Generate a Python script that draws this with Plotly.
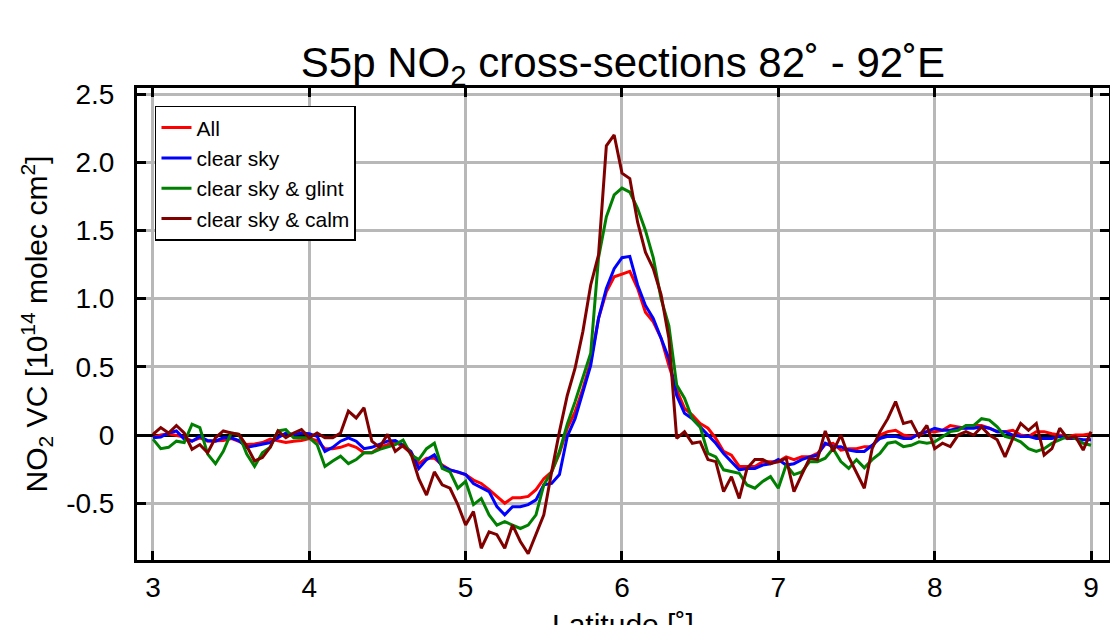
import plotly.graph_objects as go

latitude = [3.00, 3.05, 3.10, 3.15, 3.20, 3.25, 3.30, 3.35, 3.40, 3.45, 3.50, 3.55, 3.60, 3.65, 3.70, 3.75,
            3.80, 3.85, 3.90, 3.95, 4.00, 4.05, 4.10, 4.15, 4.20, 4.25, 4.30, 4.35, 4.40, 4.45, 4.50, 4.55,
            4.60, 4.65, 4.70, 4.75, 4.80, 4.85, 4.90, 4.95, 5.00, 5.05, 5.10, 5.15, 5.20, 5.25, 5.30, 5.35,
            5.40, 5.45, 5.50, 5.55, 5.60, 5.65, 5.70, 5.75, 5.80, 5.85, 5.90, 5.95, 6.00, 6.05, 6.10, 6.15,
            6.20, 6.25, 6.30, 6.35, 6.40, 6.45, 6.50, 6.55, 6.60, 6.65, 6.70, 6.75, 6.80, 6.85, 6.90, 6.95,
            7.00, 7.05, 7.10, 7.15, 7.20, 7.25, 7.30, 7.35, 7.40, 7.45, 7.50, 7.55, 7.60, 7.65, 7.70, 7.75,
            7.80, 7.85, 7.90, 7.95, 8.00, 8.05, 8.10, 8.15, 8.20, 8.25, 8.30, 8.35, 8.40, 8.45, 8.50, 8.55,
            8.60, 8.65, 8.70, 8.75, 8.80, 8.85, 8.90, 8.95, 9.00]

vc_all = [-0.02, 0.0, 0.01, 0.0, -0.015, -0.045, -0.02, -0.045, -0.045, -0.04, -0.025, -0.045, -0.07, -0.065, -0.055, -0.03,
          -0.04, -0.055, -0.045, -0.04, -0.025, -0.04, -0.1, -0.1, -0.09, -0.07, -0.09, -0.13, -0.13, -0.09, -0.07, -0.05,
          -0.085, -0.13, -0.21, -0.17, -0.17, -0.22, -0.255, -0.27, -0.29, -0.33, -0.355, -0.4, -0.45, -0.5, -0.46, -0.46,
          -0.45, -0.4, -0.32, -0.27, -0.135, 0.05, 0.17, 0.34, 0.54, 0.855, 1.05, 1.16, 1.18, 1.2, 1.075, 0.9,
          0.83, 0.71, 0.51, 0.33, 0.195, 0.147, 0.085, 0.05, -0.025, -0.12, -0.147, -0.23, -0.23, -0.23, -0.195, -0.195,
          -0.195, -0.16, -0.18, -0.16, -0.16, -0.135, -0.07, -0.06, -0.11, -0.1, -0.1, -0.085, -0.085, 0.0, 0.025, 0.035,
          0.0, -0.01, 0.0, 0.025, 0.025, 0.035, 0.07, 0.06, 0.05, 0.07, 0.07, 0.05, 0.025, 0.025, 0.035, 0.0,
          -0.01, 0.025, 0.025, 0.01, 0.0, -0.01, 0.0, 0.0, 0.01]

vc_clear = [-0.02, -0.015, 0.015, 0.03, -0.03, -0.045, -0.01, -0.04, -0.045, -0.02, -0.02, -0.04, -0.09, -0.08, -0.07, -0.055,
            -0.02, 0.015, 0.005, 0.015, 0.01, -0.01, -0.12, -0.09, -0.045, -0.02, -0.045, -0.1, -0.09, -0.07, -0.045, -0.04,
            -0.075, -0.12, -0.245, -0.18, -0.145, -0.23, -0.255, -0.27, -0.29, -0.355, -0.385, -0.415, -0.525, -0.585, -0.525, -0.525,
            -0.51, -0.475, -0.365, -0.355, -0.29, -0.01, 0.12, 0.317, 0.51, 0.855, 1.075, 1.22, 1.3, 1.31, 1.1, 0.95,
            0.855, 0.71, 0.56, 0.29, 0.16, 0.12, 0.06, 0.0, -0.06, -0.135, -0.195, -0.255, -0.245, -0.245, -0.22, -0.21,
            -0.18, -0.22, -0.21, -0.18, -0.16, -0.147, -0.06, -0.085, -0.085, -0.11, -0.12, -0.12, -0.075, -0.025, -0.01, -0.01,
            -0.025, -0.025, 0.01, 0.025, 0.05, 0.035, 0.035, 0.05, 0.05, 0.05, 0.06, 0.05, 0.025, 0.025, 0.0, -0.01,
            -0.01, -0.025, -0.025, -0.025, -0.01, -0.025, -0.025, -0.035, -0.035]

vc_glint = [-0.03, -0.1, -0.09, -0.045, -0.055, 0.08, 0.055, -0.14, -0.21, -0.12, 0.015, 0.005, -0.14, -0.23, -0.13, -0.09,
            0.03, 0.04, -0.02, -0.02, -0.02, -0.07, -0.23, -0.19, -0.155, -0.21, -0.18, -0.13, -0.13, -0.105, -0.09, -0.07,
            -0.037, -0.145, -0.18, -0.1, -0.06, -0.245, -0.27, -0.39, -0.34, -0.51, -0.465, -0.585, -0.66, -0.635, -0.66, -0.685,
            -0.66, -0.585, -0.365, -0.27, -0.12, 0.08, 0.245, 0.415, 0.6, 1.3, 1.6, 1.76, 1.81, 1.78, 1.66, 1.5,
            1.3, 1.0, 0.8, 0.366, 0.27, 0.12, 0.06, -0.135, -0.16, -0.255, -0.27, -0.28, -0.366, -0.39, -0.34, -0.305,
            -0.39, -0.22, -0.29, -0.27, -0.195, -0.195, -0.17, -0.1, -0.195, -0.245, -0.18, -0.24, -0.18, -0.135, -0.06, -0.05,
            -0.085, -0.075, -0.05, -0.06, -0.05, -0.01, 0.025, 0.035, 0.07, 0.07, 0.12, 0.11, 0.06, -0.01, -0.025, -0.05,
            -0.1, -0.12, -0.1, -0.06, -0.035, -0.01, -0.025, -0.06, -0.075]

vc_calm = [0.005, 0.055, 0.015, 0.07, 0.015, -0.105, -0.07, -0.13, -0.02, 0.03, 0.015, 0.005, -0.08, -0.19, -0.165, -0.09,
           0.03, -0.02, 0.015, 0.04, -0.02, 0.015, -0.02, -0.02, 0.015, 0.175, 0.125, 0.2, -0.045, -0.09, 0.005, -0.12,
           -0.075, -0.135, -0.32, -0.44, -0.27, -0.365, -0.39, -0.51, -0.66, -0.56, -0.83, -0.71, -0.73, -0.83, -0.66, -0.78,
           -0.87, -0.73, -0.585, -0.27, 0.025, 0.29, 0.49, 0.76, 1.1, 1.32, 2.12, 2.2, 1.92, 1.88, 1.56, 1.34,
           1.22, 1.03, 0.71, -0.025, 0.025, -0.06, -0.05, -0.18, -0.195, -0.415, -0.305, -0.465, -0.245, -0.18, -0.18, -0.21,
           -0.195, -0.17, -0.415, -0.29, -0.17, -0.18, 0.03, -0.12, 0.0, -0.16, -0.27, -0.39, -0.1, 0.025, 0.12, 0.245,
           0.085, 0.1, -0.01, 0.07, -0.1, -0.06, -0.085, 0.0, 0.025, 0.0, 0.06, 0.0, -0.035, -0.16, -0.025, 0.085,
           0.035, 0.085, -0.147, -0.1, 0.05, -0.025, -0.01, -0.11, 0.025]

series_names = ["All", "clear sky", "clear sky & glint", "clear sky & calm"]
series_colors = ["#ff0000", "#0000ff", "#008000", "#800000"]
series_values = [vc_all, vc_clear, vc_glint, vc_calm]

x_ticks = [3, 4, 5, 6, 7, 8, 9]
y_ticks = [-0.5, 0, 0.5, 1.0, 1.5, 2.0, 2.5]
y_tick_text = ["-0.5", "0", "0.5", "1.0", "1.5", "2.0", "2.5"]

FONT = "Liberation Sans, Arial, Helvetica, sans-serif"

fig = go.Figure()
for name, color, vals in zip(series_names, series_colors, series_values):
    fig.add_trace(go.Scatter(x=latitude, y=vals, mode="lines", name=name, legendgroup=name,
                             line=dict(color=color, width=3)))

fig.update_layout(
    width=1118, height=625,
    margin=dict(l=129, r=17, t=80, b=73, autoexpand=False),
    paper_bgcolor="white", plot_bgcolor="white",
    font=dict(family=FONT, color="black"),
    title=dict(text="S5p NO<sub>2</sub> cross-sections 82˚ - 92˚E",
               font=dict(size=42, family=FONT, color="black"),
               x=0.5, xref="paper", xanchor="center",
               y=1 - 54 / 625, yref="container", yanchor="middle"),
    legend=dict(x=0.0185, y=0.962, xanchor="left", yanchor="top",
                bgcolor="white", bordercolor="black", borderwidth=1.5,
                font=dict(size=21, family=FONT, color="black"),
                tracegroupgap=10, traceorder="normal"),
    showlegend=True,
    annotations=[dict(text="Latitude [˚]", xref="paper", yref="paper", x=0.5, y=-0.097,
                      xanchor="center", yanchor="top", showarrow=False,
                      font=dict(size=30, family=FONT, color="black"))],
)

fig.update_xaxes(range=[2.898, 9.115], tickvals=x_ticks, ticktext=[str(t) for t in x_ticks],
                 automargin=False,
                 showgrid=True, gridcolor="#b8b8b8", gridwidth=3,
                 showline=True, linecolor="black", linewidth=3, mirror="ticks",
                 ticks="inside", ticklen=9, tickwidth=3, tickcolor="black",
                 tickfont=dict(size=28, family=FONT, color="black"),
                 zeroline=False)

fig.update_yaxes(range=[-0.916, 2.544], tickvals=y_ticks, ticktext=y_tick_text,
                 automargin=False, ticklabelstandoff=14,
                 showgrid=True, gridcolor="#b8b8b8", gridwidth=3,
                 showline=True, linecolor="black", linewidth=3, mirror="ticks",
                 ticks="inside", ticklen=9, tickwidth=3, tickcolor="black",
                 tickfont=dict(size=28, family=FONT, color="black"),
                 zeroline=True, zerolinecolor="black", zerolinewidth=3,
                 title=dict(text="NO<sub>2</sub> VC [10<sup>14</sup> molec cm<sup>2</sup>]",
                            font=dict(size=30, family=FONT, color="black"), standoff=10))

fig.write_html("out.html")
